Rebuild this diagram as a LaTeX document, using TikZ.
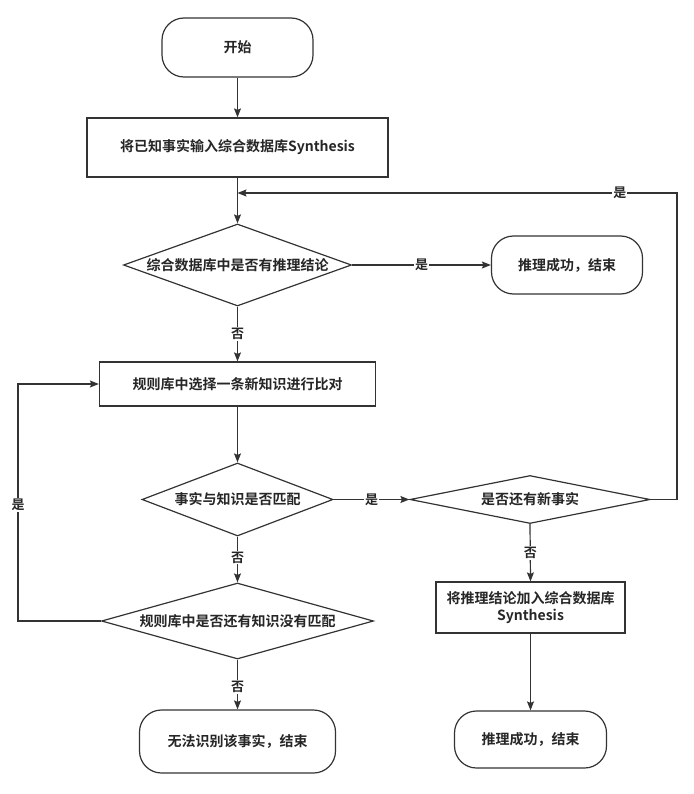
\documentclass[tikz,border=0pt]{standalone}
\usepackage{fontspec}
\setmainfont{Noto Sans CJK SC}[BoldFont={Noto Sans CJK SC Bold}]
\usetikzlibrary{shapes.geometric,arrows.meta}
\definecolor{ink}{HTML}{333333}
\definecolor{txt}{HTML}{262626}
\tikzset{
  base/.style={draw=ink, line width=1.2pt, text=txt, font=\fontsize{14pt}{17pt}\selectfont\bfseries, inner sep=0pt, align=center},
  term/.style={base, rectangle, rounded corners=22pt},
  proc/.style={base, rectangle},
  dec/.style={base, diamond},
  dtext/.style={text=txt, font=\fontsize{14pt}{17pt}\selectfont\bfseries},
  arr/.style={draw=ink, line width=1.2pt, -{Stealth[length=9pt,width=7pt,inset=1.5pt]}},
  lbl/.style={fill=white, text=txt, inner sep=1pt, font=\fontsize{13pt}{15pt}\selectfont\bfseries}
}
\begin{document}
\begin{tikzpicture}[x=1pt,y=-1pt]
\useasboundingbox (0,0) rectangle (693,794);
% nodes
\node[term, minimum width=151pt, minimum height=59pt] (start) at (237.5,47.5) {开始};
\node[proc, minimum width=301pt, minimum height=59pt] (input) at (237.5,147.5) {将已知事实输入综合数据库Synthesis};
\node[dec, minimum width=228pt, minimum height=82pt, label={[dtext]center:综合数据库中是否有推理结论}] (d1) at (237.5,265) {};
\node[term, minimum width=151pt, minimum height=58pt] (ok1) at (567,265) {推理成功，结束};
\node[proc, minimum width=276pt, minimum height=44pt] (pick) at (237.5,384) {规则库中选择一条新知识进行比对};
\node[dec, minimum width=191pt, minimum height=73pt, label={[dtext]center:事实与知识是否匹配}] (d2) at (237.5,499.5) {};
\node[dec, minimum width=240pt, minimum height=48pt, label={[dtext]center:是否还有新事实}] (d3) at (530,499.5) {};
\node[dec, minimum width=272pt, minimum height=76pt, label={[dtext]center:规则库中是否还有知识没有匹配}] (d4) at (237.5,621) {};
\node[proc, minimum width=189pt, minimum height=51pt] (add) at (530.5,607.5) {将推理结论加入综合数据库\\Synthesis};
\node[term, minimum width=196pt, minimum height=63pt] (fail) at (237.5,741.5) {无法识别该事实，结束};
\node[term, minimum width=152pt, minimum height=57pt] (ok2) at (530.5,739.5) {推理成功，结束};
\coordinate (m) at (237.5,193);
\coordinate (rx) at (677,0);
\coordinate (lx) at (18,0);
% connectors
\draw[arr] (start) -- (input);
\draw[arr] (input) -- (d1);
\draw[arr] (d1.east) -- node[lbl, pos=0.5] {是} (ok1.west);
\draw[arr] (d1.south) -- node[lbl, pos=0.5] {否} (pick.north);
\draw[arr] (pick) -- (d2.north);
\draw[arr] (d2.east) -- node[lbl, pos=0.5] {是} (d3.west);
\draw[arr] (d2.south) -- node[lbl, pos=0.46] {否} (d4.north);
\draw[arr] (d4.south) -- node[lbl, pos=0.55] {否} (fail.north);
\draw[arr] (d4.west) -- (d4.west -| lx) -- node[lbl, pos=0.49] {是} (pick.west -| lx) -- (pick.west);
\draw[arr] (d3.east) -- (d3.east -| rx) -- (m -| rx) -- node[lbl, pos=0.13] {是} (m);
\draw[arr] (d3.south) -- node[lbl, pos=0.5] {否} (add.north);
\draw[arr] (add) -- (ok2);
\end{tikzpicture}
\end{document}
